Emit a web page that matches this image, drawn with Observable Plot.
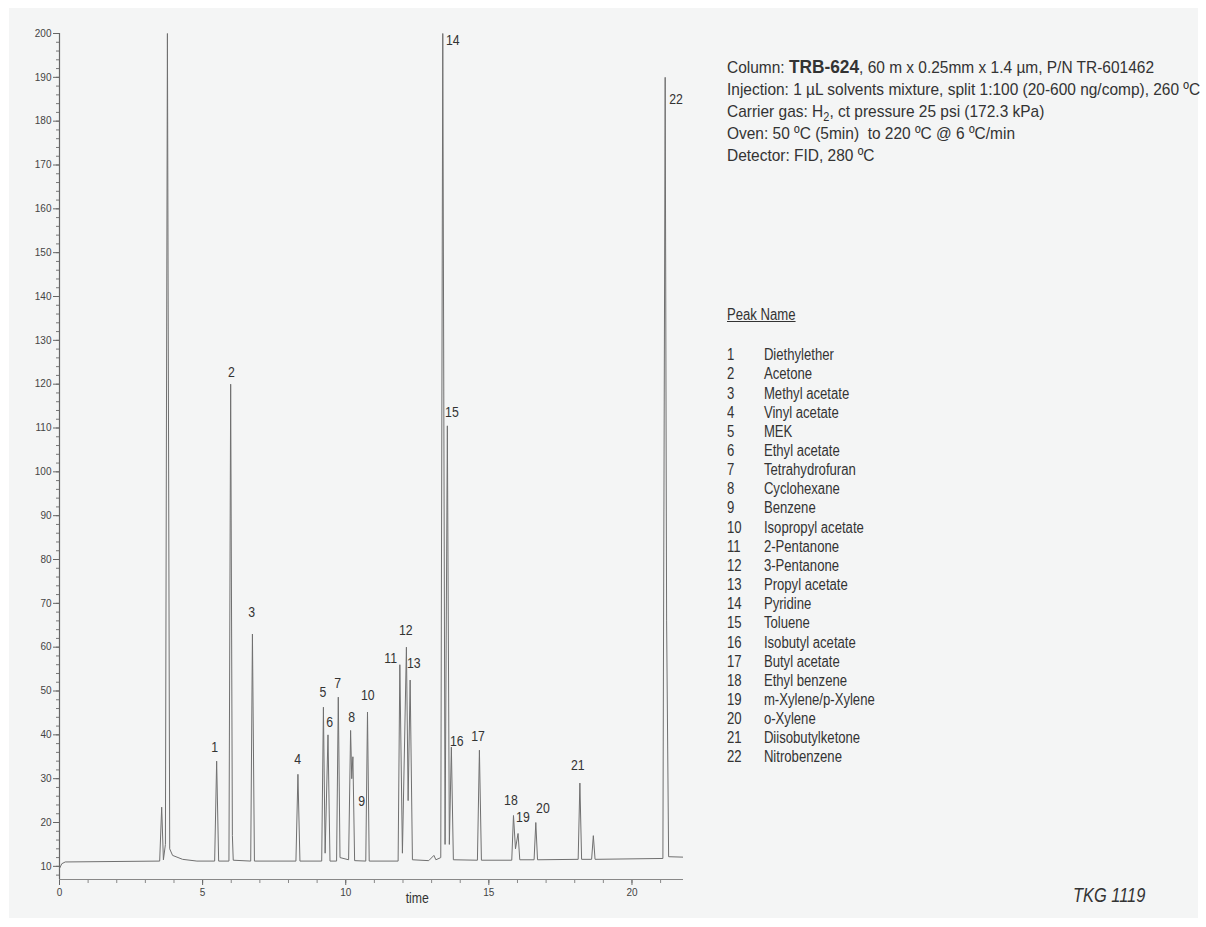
<!DOCTYPE html>
<html>
<head>
<meta charset="utf-8">
<script src="https://cdn.jsdelivr.net/npm/d3@7"></script>
<script src="https://cdn.jsdelivr.net/npm/@observablehq/plot@0.6"></script>
<style>
  html, body { margin: 0; padding: 0; background: #ffffff; }
  body { width: 1206px; height: 927px; position: relative; overflow: hidden; font-family: "Liberation Sans", Arial, sans-serif; color: #333; }
  #panel { position: absolute; left: 9px; top: 8px; width: 1189px; height: 910px; background: #f4f5f5; }
  #chart { position: absolute; left: 0; top: 0; }
  #cond { position: absolute; left: 727px; top: 56px; font-size: 17px; line-height: 22px; white-space: nowrap; transform: scaleX(0.91); transform-origin: 0 0; }
  #cond b { font-size: 19px; }
  #cond sub { font-size: 12px; line-height: 0; }
  #legend { position: absolute; left: 727px; top: 305px; font-size: 16px; white-space: nowrap; transform: scaleX(0.82); transform-origin: 0 0; }
  #legend .hdr { text-decoration: underline; margin-bottom: 21px; line-height: 19.2px; height: 19.2px; }
  #legend .row { line-height: 19.17px; height: 19.17px; }
  #legend .num { display: inline-block; width: 45px; }
  #code { position: absolute; left: 1073px; top: 884px; font-size: 20px; font-style: italic; transform: scaleX(0.82); transform-origin: 0 0; white-space: nowrap; }
</style>
</head>
<body>
<div id="panel"></div>
<div id="chart"></div>
<div id="cond"></div>
<div id="legend"></div>
<div id="code">TKG 1119</div>
<script>
// ---- Data ----
// Chromatogram trace (time in min, detector signal)
const traceT = [0.00, 0.08, 0.20, 3.50, 3.57, 3.63, 3.70, 3.77, 3.85, 3.95, 4.30, 4.80,
  5.42, 5.49, 5.56, 5.92, 5.98, 6.04, 6.07, 6.68, 6.74, 6.81,
  8.26, 8.33, 8.40, 9.16, 9.22, 9.28, 9.38, 9.45, 9.68, 9.74, 9.80,
  10.10, 10.17, 10.21, 10.25, 10.31, 10.70, 10.76, 10.82,
  11.83, 11.89, 11.98, 12.12, 12.18, 12.25, 12.33, 12.90, 13.08, 13.15,
  13.32, 13.39, 13.47, 13.55, 13.62, 13.69, 13.76, 14.60, 14.67, 14.74,
  15.80, 15.86, 15.93, 16.02, 16.08, 16.58, 16.64, 16.70,
  18.12, 18.18, 18.24, 18.59, 18.65, 18.71,
  21.08, 21.16, 21.21, 21.28, 21.80];
const traceV = [9.5, 10.6, 11.0, 11.2, 23.5, 11.5, 15.0, 200, 14.0, 12.5, 11.6, 11.2,
  11.2, 34.0, 11.2, 11.2, 120, 17.0, 11.4, 11.2, 63.0, 11.2,
  11.2, 31.0, 11.2, 11.2, 46.3, 13.0, 40.0, 11.2, 11.2, 48.6, 12.0,
  11.5, 41.0, 30.0, 35.0, 11.3, 11.2, 45.2, 11.2,
  11.2, 56.0, 13.0, 60.0, 25.0, 52.5, 11.5, 11.3, 12.5, 11.5,
  12.0, 200, 15.0, 110.5, 15.0, 37.2, 11.5, 11.4, 36.5, 11.4,
  11.4, 21.6, 14.0, 17.5, 11.5, 11.5, 20.0, 11.5,
  11.6, 29.0, 11.6, 11.6, 17.0, 11.6,
  11.8, 190, 66.0, 12.2, 12.1];

// Peak labels
const peakNum = [1,2,3,4,5,6,7,8,9,10,11,12,13,14,15,16,17,18,19,20,21,22];
const labelT = [5.42, 6.01, 6.71, 8.32, 9.20, 9.44, 9.72, 10.21, 10.56, 10.77, 11.57, 12.10,
  12.38, 13.74, 13.71, 13.88, 14.62, 15.77, 16.19, 16.89, 18.11, 21.54];
const labelV = [37.2, 122.8, 68.0, 34.4, 49.7, 42.9, 51.8, 44.0, 24.8, 49.0, 57.5, 63.9,
  56.3, 198.4, 113.7, 38.5, 39.7, 25.1, 21.2, 23.2, 33.1, 184.9];
const peakNames = ["Diethylether", "Acetone", "Methyl acetate", "Vinyl acetate", "MEK",
  "Ethyl acetate", "Tetrahydrofuran", "Cyclohexane", "Benzene", "Isopropyl acetate",
  "2-Pentanone", "3-Pentanone", "Propyl acetate", "Pyridine", "Toluene",
  "Isobutyl acetate", "Butyl acetate", "Ethyl benzene", "m-Xylene/p-Xylene", "o-Xylene",
  "Diisobutylketone", "Nitrobenzene"];

// Axis ticks
const yTicks = [10,20,30,40,50,60,70,80,90,100,110,120,130,140,150,160,170,180,190,200];
const yMinorTicks = d3.range(8, 201, 2);
const xTicks = [0, 5, 10, 15, 20];
const xMinorTicks = d3.range(0, 22, 1);

// Method conditions
const condLines = [
  'Column: <b>TRB-624</b>, 60 m x 0.25mm x 1.4 µm, P/N TR-601462',
  'Injection: 1 µL solvents mixture, split 1:100 (20-600 ng/comp), 260 ºC',
  'Carrier gas: H<sub>2</sub>, ct pressure 25 psi (172.3 kPa)',
  'Oven: 50 ºC (5min)&nbsp; to 220 ºC @ 6 ºC/min',
  'Detector: FID, 280 ºC'
];

// ---- Chart ----
const trace = traceT.map((t, i) => ({t, v: traceV[i]}));
const labels = peakNum.map((n, i) => ({n, t: labelT[i], v: labelV[i]}));

const chart = Plot.plot({
  width: 700,
  height: 927,
  marginLeft: 59,
  marginRight: 17,
  marginTop: 33,
  marginBottom: 48,
  style: {background: "transparent", fontFamily: "'Liberation Sans', Arial, sans-serif"},
  x: {domain: [0, 21.8]},
  y: {domain: [7, 200]},
  marks: [
    Plot.axisY({ticks: yMinorTicks, tickSize: 3, tickFormat: () => "", stroke: "#777", label: null}),
    Plot.axisY({ticks: yTicks, tickSize: 6, tickPadding: 2, fontSize: 10, fill: "#444", stroke: "#666", label: null}),
    Plot.axisX({ticks: xMinorTicks, tickSize: 4, tickFormat: () => "", stroke: "#888", label: null}),
    Plot.axisX({ticks: xTicks, tickSize: 6, tickPadding: 3, fontSize: 10, fill: "#444", stroke: "#666", label: null}),
    Plot.ruleX([0], {stroke: "#666", strokeWidth: 1.2}),
    Plot.ruleY([7], {stroke: "#888", strokeWidth: 1.2}),
    Plot.text(["time"], {x: 12.5, frameAnchor: "bottom", dy: 23, fontSize: 15, fill: "#333", className: "narrow"}),
    Plot.line(trace, {x: "t", y: "v", stroke: "#707070", strokeWidth: 1, clip: true}),
    Plot.text(labels, {x: "t", y: "v", text: d => String(d.n), fontSize: 15, fill: "#333", className: "narrow"})
  ]
});
// Condense the annotation font (narrow face unavailable)
chart.querySelectorAll(".narrow text").forEach(t => {
  const tr = t.getAttribute("transform") || "";
  t.setAttribute("transform", tr + " scale(0.82,1)");
});
document.getElementById("chart").appendChild(chart);

document.getElementById("cond").innerHTML = condLines.map(l => `<div>${l}</div>`).join("");
document.getElementById("legend").innerHTML =
  `<div class="hdr">Peak Name</div>` +
  peakNum.map((n, i) => `<div class="row"><span class="num">${n}</span>${peakNames[i]}</div>`).join("");
</script>
</body>
</html>
